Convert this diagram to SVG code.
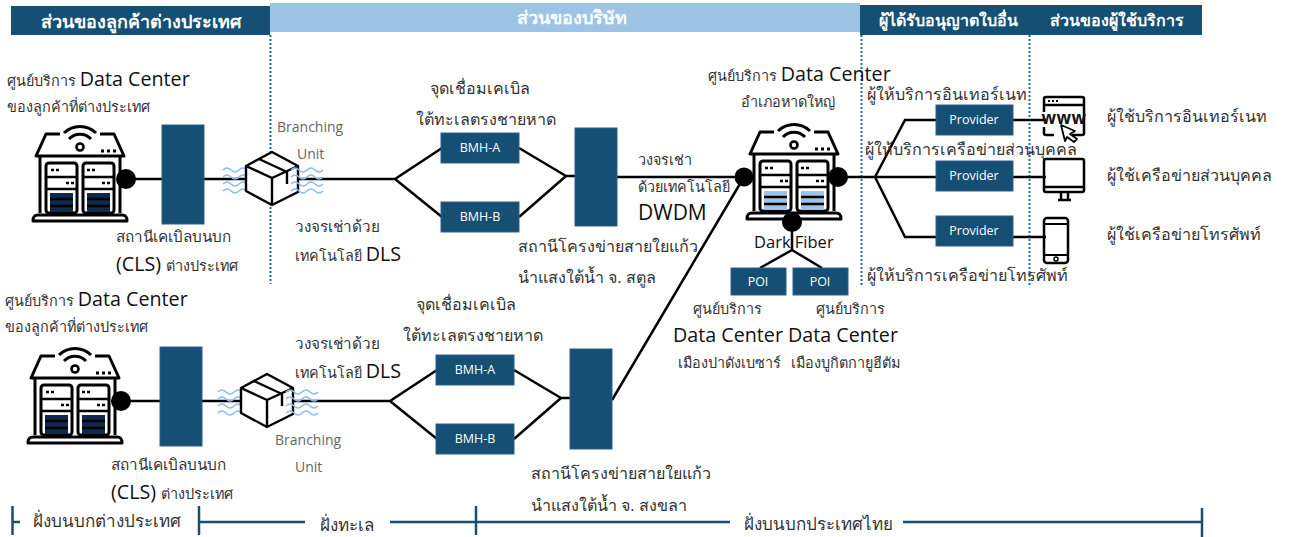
<svg xmlns="http://www.w3.org/2000/svg" width="1290" height="537" viewBox="0 0 1290 537">
<style>
text{font-family:"Open Sans","Noto Sans","DejaVu Sans",sans-serif;fill:#333}
.h{font-size:16px;font-weight:700;fill:#fff;text-anchor:middle}
.t{font-size:16.100px}
.f{font-size:17px}
.s{font-size:15px}
.n{font-size:14.400px}
.m{font-size:15.300px}
.l{font-size:19.700px;fill:#111}
.g{font-size:14px;fill:#666}
.w{font-size:12.500px;fill:#fff;text-anchor:middle}
.b{fill:#154f73;stroke:#2f5f95;stroke-width:1}
.c{fill:none;stroke:#000;stroke-width:2.500}
.d{fill:none;stroke:#1f6a96;stroke-width:2;stroke-dasharray:2 2}
.ln{fill:none;stroke:#154f73;stroke-width:2.500}
.k{fill:none;stroke:#000;stroke-width:3;stroke-linejoin:round}
.v{fill:none;stroke:#8dbcf0;stroke-width:1.400}
</style>
<defs>
<g id="house">
<path class="k" d="M60 134H46L36 156H124L114 134H100"/>
<path class="k" d="M40 157V213M120 157V213"/>
<path class="k" d="M33 221C33 216 35 215 38 215H122C125 215 127 216 127 221Z"/>
<rect x="46" y="163" width="31" height="50" rx="3" fill="#fff" stroke="#000" stroke-width="3"/>
<rect x="83" y="163" width="31" height="50" rx="3" fill="#fff" stroke="#000" stroke-width="3"/>
<path d="M46 177H77M46 189H77M83 177H114M83 189H114" stroke="#000" stroke-width="2.400"/>
<path d="M51 170h3M56 170h3M87 170h3M92 170h3M66 183h3M71 183h3M102 183h3M107 183h3" stroke="#000" stroke-width="2.600"/>
<path d="M64 133a23 23 0 0 1 32 0M69 139a15 15 0 0 1 22 0" class="k"/>
<circle cx="80" cy="147" r="3.500" fill="#fff" stroke="#000" stroke-width="2.600"/>
<path d="M101 151h3M107 151h3M113 151h3" stroke="#000" stroke-width="2.800"/>
</g>
<g id="doors">
<rect x="50" y="193" width="23" height="19"/><rect x="87" y="193" width="23" height="19"/>
</g>
<g id="slats"><path d="M50 199H73M50 206H73M87 199H110M87 206H110" stroke="#000" stroke-width="2.400"/></g>
<g id="wave"><path class="v" d="M0 0q4-4 8 0t8 0t8 0t8 0M0 7q4-4 8 0t8 0t8 0t8 0M0 14q4-4 8 0t8 0t8 0t8 0M0 21q4-4 8 0t8 0t8 0t8 0"/></g>
<g id="box">
<path d="M272 152L298 166V192L272 205L246 191V166Z" fill="#fff" stroke="#000" stroke-width="2.400" stroke-linejoin="round"/>
<path class="k" style="stroke-width:2.400" d="M246 166L272 178L298 166M272 178V205M259 159L287 172V184"/>
</g>
</defs>

<g id="headers">
<rect x="11" y="6" width="259" height="29" fill="#154f73"/>
<rect x="270" y="3" width="590" height="29" fill="#9dc3e6"/>
<rect x="860" y="5" width="342" height="30" fill="#154f73"/>
<text class="h" x="141" y="28" style="font-size:18px">ส่วนของลูกค้าต่างประเทศ</text>
<text class="h" x="572" y="24" style="font-size:18px">ส่วนของบริษัท</text>
<text class="h" x="948" y="26">ผู้ได้รับอนุญาตใบอื่น</text>
<text class="h" x="1117" y="26">ส่วนของผู้ใช้บริการ</text>
</g>

<g id="dividers">
<path class="d" d="M270.500 35V284M861.500 35V285M1029.500 35V285"/>
</g>

<g id="connectors">
<path class="c" d="M126 179H162M204 179H245M298 179H395L442 148M395 179L442 217M519 148L566 176M519 217L566 176M566 176H575M617 177H744"/>
<path class="c" d="M121 401H160M202 401H240M293 401H390L437 370M390 401L437 439M514 370L561 398M514 439L561 398M561 398H570M612 400L744 177"/>
<path class="c" d="M838 177H936M875 177L905 120H936M875 177L905 237H936M1013 120H1046M1013 177H1046M1013 237H1046"/>
<path class="c" d="M792 222V250L760 268M792 250L822 268"/>
</g>

<g id="dc-foreign-1">
<use href="#house"/><use href="#doors" fill="#10294f"/><use href="#slats"/>
<circle cx="126" cy="179" r="10" fill="#000"/>
<text x="7" y="86"><tspan class="n">ศูนย์บริการ </tspan><tspan class="l">Data Center</tspan></text>
<text class="n" x="7" y="112">ของลูกค้าที่ต่างประเทศ</text>
</g>
<g id="cls-1">
<rect class="b" x="162" y="125" width="42" height="99"/>
<text class="m" x="116" y="242">สถานีเคเบิลบนบก</text>
<text x="116" y="271"><tspan class="l">(CLS) </tspan><tspan class="n">ต่างประเทศ</tspan></text>
</g>
<g id="bu-1">
<use href="#wave" x="223" y="170"/><use href="#box"/><use href="#wave" x="291" y="170"/>
<text class="g" x="277" y="132">Branching</text>
<text class="g" x="297" y="159">Unit</text>
<text class="m" x="295" y="232">วงจรเช่าด้วย</text>
<text x="295" y="261"><tspan class="n">เทคโนโลยี </tspan><tspan class="l">DLS</tspan></text>
</g>
<g id="bmh-1">
<text class="t" x="430" y="94">จุดเชื่อมเคเบิล</text>
<text class="t" x="416" y="125">ใต้ทะเลตรงชายหาด</text>
<rect class="b" x="441" y="133" width="78" height="30"/><text class="w" x="480" y="152">BMH-A</text>
<rect class="b" x="441" y="202" width="78" height="30"/><text class="w" x="480" y="221">BMH-B</text>
</g>
<g id="station-1">
<rect class="b" x="575" y="128" width="42" height="98"/>
<text class="t" x="518" y="252">สถานีโครงข่ายสายใยแก้ว</text>
<text class="t" x="518" y="283">นำแสงใต้น้ำ จ. สตูล</text>
<text class="n" x="638" y="165">วงจรเช่า</text>
<text class="n" x="638" y="192">ด้วยเทคโนโลยี</text>
<text class="l" x="638" y="220" style="font-size:21px">DWDM</text>
</g>

<g id="dc-foreign-2">
<use href="#house" x="-5" y="222"/><use href="#doors" x="-5" y="222" fill="#10294f"/><use href="#slats" x="-5" y="222"/>
<circle cx="121" cy="401" r="10" fill="#000"/>
<text x="5" y="306"><tspan class="n">ศูนย์บริการ </tspan><tspan class="l">Data Center</tspan></text>
<text class="n" x="5" y="332">ของลูกค้าที่ต่างประเทศ</text>
</g>
<g id="cls-2">
<rect class="b" x="160" y="347" width="42" height="99"/>
<text class="m" x="111" y="470">สถานีเคเบิลบนบก</text>
<text x="111" y="499"><tspan class="l">(CLS) </tspan><tspan class="n">ต่างประเทศ</tspan></text>
</g>
<g id="bu-2">
<use href="#wave" x="218" y="392"/><use href="#box" x="-5" y="222"/><use href="#wave" x="286" y="392"/>
<text class="g" x="275" y="445">Branching</text>
<text class="g" x="295" y="472">Unit</text>
<text class="m" x="295" y="349">วงจรเช่าด้วย</text>
<text x="295" y="378"><tspan class="n">เทคโนโลยี </tspan><tspan class="l">DLS</tspan></text>
</g>
<g id="bmh-2">
<text class="t" x="416" y="310">จุดเชื่อมเคเบิล</text>
<text class="t" x="403" y="341">ใต้ทะเลตรงชายหาด</text>
<rect class="b" x="436" y="355" width="78" height="30"/><text class="w" x="475" y="374">BMH-A</text>
<rect class="b" x="436" y="424" width="78" height="30"/><text class="w" x="475" y="443">BMH-B</text>
</g>
<g id="station-2">
<rect class="b" x="570" y="349" width="42" height="100"/>
<text class="t" x="531" y="479">สถานีโครงข่ายสายใยแก้ว</text>
<text class="t" x="531" y="511">นำแสงใต้น้ำ จ. สงขลา</text>
</g>

<g id="dc-hatyai">
<use href="#house" x="714" y="-2"/><use href="#doors" x="714" y="-2" fill="#9dc3e6"/><use href="#slats" x="714" y="-2"/>
<circle cx="744" cy="177" r="9.500" fill="#000"/>
<circle cx="838" cy="177" r="10" fill="#000"/>
<circle cx="792" cy="222" r="10" fill="#000"/>
<text x="708" y="81"><tspan class="n">ศูนย์บริการ </tspan><tspan class="l">Data Center</tspan></text>
<text class="n" x="741" y="107">อำเภอหาดใหญ่</text>
<text x="754" y="248" style="font-size:16.500px;fill:#111">Dark Fiber</text>
</g>
<g id="poi-1">
<rect class="b" x="731" y="268" width="55" height="27"/><text class="w" x="758" y="286">POI</text>
<text class="n" x="693" y="314">ศูนย์บริการ</text>
<text class="l" x="673" y="342">Data Center</text>
<text class="n" x="678" y="368">เมืองปาดังเบซาร์</text>
</g>
<g id="poi-2">
<rect class="b" x="793" y="268" width="55" height="27"/><text class="w" x="820" y="286">POI</text>
<text class="n" x="816" y="314">ศูนย์บริการ</text>
<text class="l" x="788" y="342">Data Center</text>
<text class="n" x="791" y="368">เมืองบูกิตกายูฮีตัม</text>
</g>

<g id="provider-internet">
<rect class="b" x="936" y="105" width="77" height="30"/><text class="w" x="974" y="124">Provider</text>
<text class="t" x="867" y="100">ผู้ให้บริการอินเทอร์เนท</text>
</g>
<g id="provider-private">
<rect class="b" x="936" y="161" width="77" height="30"/><text class="w" x="974" y="180">Provider</text>
<text class="t" x="865" y="155">ผู้ให้บริการเครือข่ายส่วนบุคคล</text>
</g>
<g id="provider-phone">
<rect class="b" x="936" y="216" width="77" height="30"/><text class="w" x="974" y="235">Provider</text>
<text class="t" x="867" y="281">ผู้ให้บริการเครือข่ายโทรศัพท์</text>
</g>

<g id="user-internet">
<path class="k" style="stroke-width:2.500" d="M1044 112V99Q1044 97 1046 97H1082Q1084 97 1084 99V133Q1084 135 1082 135H1072M1044 127V133Q1044 135 1046 135H1054M1044 105H1084"/>
<path d="M1048 101h2M1052 101h2M1056 101h2" stroke="#000" stroke-width="2"/>
<text x="1064" y="124" style="font-size:17px;font-weight:700;fill:#111;text-anchor:middle;letter-spacing:.5px">www</text>
<path d="M1061 125L1075 131L1070 134L1077 139L1074 142L1067 137L1065 141Z" fill="#fff" stroke="#000" stroke-width="1.800" stroke-linejoin="round"/>
<text class="t" x="1107" y="122">ผู้ใช้บริการอินเทอร์เนท</text>
</g>
<g id="user-private">
<rect class="k" style="stroke-width:2.500" x="1044" y="159" width="40" height="33" rx="2" fill="#fff"/>
<path class="k" style="stroke-width:2.500" d="M1044 187H1084M1058 200H1071M1061 192V199M1068 192V199"/>
<text class="t" x="1107" y="181">ผู้ใช้เครือข่ายส่วนบุคคล</text>
</g>
<g id="user-phone">
<rect class="k" style="stroke-width:2.500" x="1044" y="218" width="24" height="45" rx="3" fill="#fff"/>
<path d="M1044 224H1068M1044 255H1068" stroke="#000" stroke-width="1.800"/>
<circle cx="1056" cy="259" r="2" fill="none" stroke="#000" stroke-width="1.500"/>
<text class="t" x="1107" y="240">ผู้ใช้เครือข่ายโทรศัพท์</text>
</g>

<g id="scale">
<path class="ln" d="M12.500 506V535M12 522H20M199 506V535M199 522H305M390 522H476M476 506V535M476 522H730M903 522H1202M1202 508V537"/>
<text class="f" x="33" y="527">ฝั่งบนบกต่างประเทศ</text>
<text class="f" x="320" y="531">ฝั่งทะเล</text>
<text class="f" x="744" y="530">ฝั่งบนบกประเทศไทย</text>
</g>
</svg>
